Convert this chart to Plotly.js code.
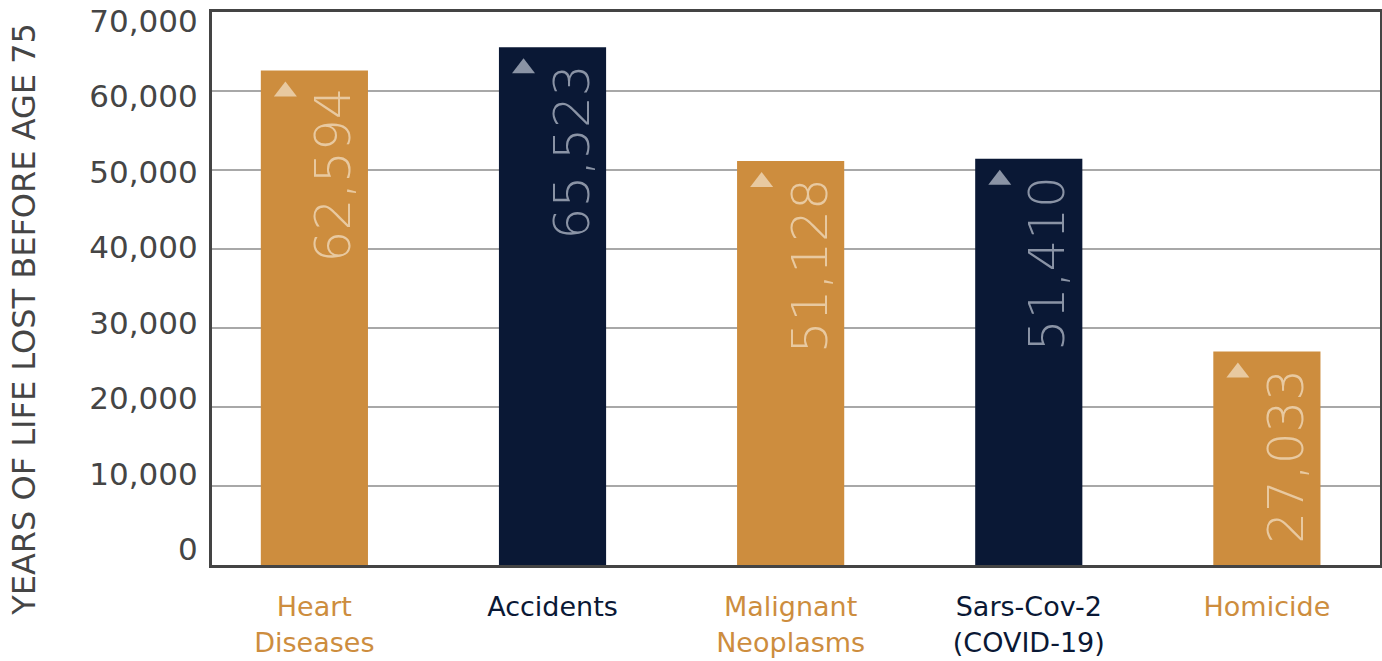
<!DOCTYPE html>
<html>
<head>
<meta charset="utf-8">
<script src="https://cdn.plot.ly/plotly-3.0.1.min.js"></script>
<style>html,body{margin:0;padding:0;background:#fff;}#chart{width:1382px;height:661px;}</style>
</head>
<body>
<div id="chart"></div>
<script>
// ---- data ----
var categories = ["Heart Diseases", "Accidents", "Malignant Neoplasms", "Sars-Cov-2 (COVID-19)", "Homicide"];
var categoryLabels = ["Heart<br>Diseases", "Accidents", "Malignant<br>Neoplasms", "Sars-Cov-2<br>(COVID-19)", "Homicide"];
var yearsLost = [62594, 65523, 51128, 51410, 27033];
var yTickValues = [0, 10000, 20000, 30000, 40000, 50000, 60000, 70000];
var yTickLabels = ["0", "10,000", "20,000", "30,000", "40,000", "50,000", "60,000", "70,000"];
var yTitle = "YEARS OF LIFE LOST BEFORE AGE 75";

// ---- styles ----
var ORANGE = "#CD8D3E", NAVY = "#0A1835";
var barColors = [ORANGE, NAVY, ORANGE, NAVY, ORANGE];
var accentColors = ["#E8C9A0", "#8A93A5", "#E8C9A0", "#8A93A5", "#E8C9A0"];
var FONT = "DejaVu Sans";

var idx = categories.map(function (c, i) { return i; });

var bars = {
  type: "bar",
  x: idx,
  y: yearsLost,
  width: 0.45,
  marker: { color: barColors },
  hoverinfo: "x+y",
  showlegend: false
};

var annotations = [];
var shapes = [];
idx.forEach(function (i) {
  annotations.push({
    x: i, y: yearsLost[i], xref: "x", yref: "y",
    text: yearsLost[i].toLocaleString("en-US"),
    textangle: -90, showarrow: false,
    xanchor: "center", yanchor: "top",
    xshift: 19, yshift: -15,
    font: { family: FONT, size: 50, weight: 200, color: accentColors[i] }
  });
  shapes.push({
    type: "path", xref: "x", yref: "y",
    xsizemode: "pixel", ysizemode: "pixel",
    xanchor: i, yanchor: yearsLost[i],
    path: "M -40.5,-26 L -17.5,-26 L -29,-11 Z",
    fillcolor: accentColors[i], line: { width: 0 }
  });
});

annotations.push({
  xref: "paper", yref: "paper", x: -0.161, y: 0.445,
  xanchor: "center", yanchor: "middle", textangle: -90, showarrow: false,
  text: yTitle,
  font: { family: FONT, size: 32, color: "#454545" }
});

var tickText = categoryLabels.map(function (t, i) {
  return '<span style="color:' + barColors[i] + '">' + t + '</span>';
});

var layout = {
  width: 1382, height: 661,
  margin: { l: 212, r: 2, t: 12, b: 96 },
  paper_bgcolor: "#ffffff", plot_bgcolor: "#ffffff",
  font: { family: FONT, color: "#454545" },
  bargap: 0.55,
  xaxis: {
    type: "linear",
    range: [-0.43, 4.475],
    tickvals: idx, ticktext: tickText,
    tickfont: { family: FONT, size: 27 },
    showgrid: false, zeroline: false,
    showline: true, mirror: true, linecolor: "#444444", linewidth: 3,
    ticks: "outside", ticklen: 16, tickcolor: "rgba(0,0,0,0)",
    fixedrange: true
  },
  yaxis: {
    range: [0, 70000],
    tickvals: yTickValues,
    showticklabels: false,
    showgrid: true, gridcolor: "#A8A8A8", gridwidth: 2,
    zeroline: false,
    showline: true, mirror: true, linecolor: "#444444", linewidth: 3,
    fixedrange: true
  },
  yaxis2: {
    overlaying: "y", side: "left", anchor: "x",
    range: [-2053, 71191],
    tickvals: yTickValues, ticktext: yTickLabels,
    tickfont: { family: FONT, size: 31, color: "#454545" },
    showgrid: false, zeroline: false, showline: false,
    ticks: "outside", ticklen: 7, tickcolor: "rgba(0,0,0,0)",
    fixedrange: true
  },
  annotations: annotations,
  shapes: shapes
};

var labelAxisTrace = {
  type: "scatter", mode: "none", x: idx, y: yearsLost, yaxis: "y2",
  hoverinfo: "skip", showlegend: false
};

Plotly.newPlot("chart", [bars, labelAxisTrace], layout, { displayModeBar: false, staticPlot: true });
</script>
</body>
</html>
